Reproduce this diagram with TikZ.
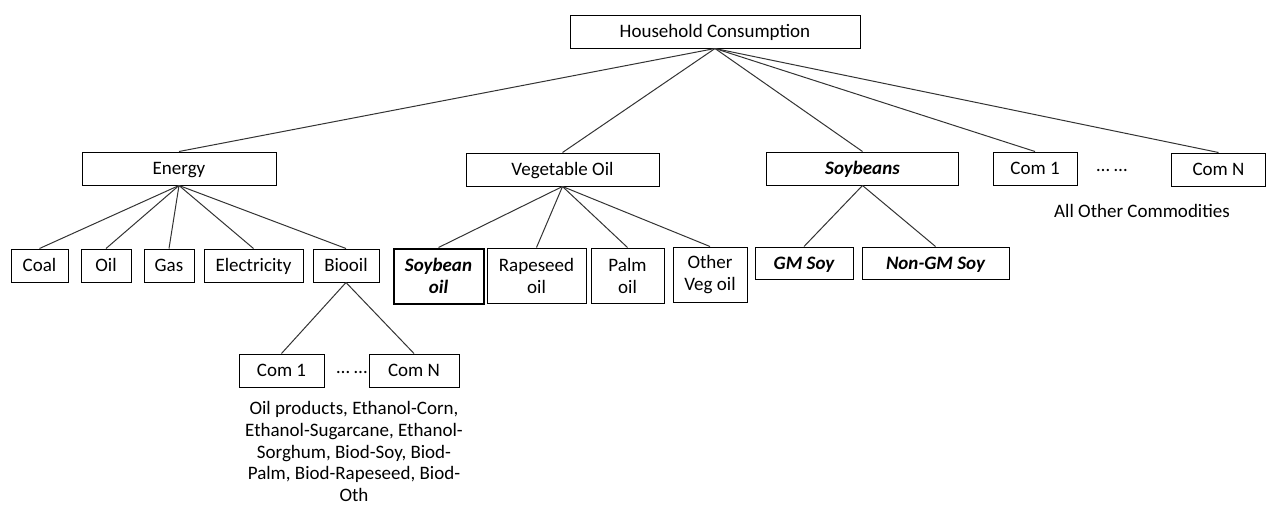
\documentclass[tikz,border=0pt]{standalone}
\usepackage{fontspec}
\setmainfont{Carlito}
\begin{document}
\begin{tikzpicture}[x=1pt,y=-1pt,
  box/.style={draw=black,line width=1pt,inner sep=0pt,align=center,font=\fontsize{19}{22}\selectfont},
  sl/.style={box,text height=12.5pt,text depth=0pt},
  thickbox/.style={box,line width=2pt},
  link/.style={draw=black!80,line width=1pt},
  lbl/.style={inner sep=0pt,align=center,font=\fontsize{19}{21.8}\selectfont}]
\useasboundingbox (0,0) rectangle (1266,504);
% top
\node[sl,minimum width=290,minimum height=33] (hc) at (715,31.5) {Household Consumption};
% level 1
\node[sl,minimum width=194,minimum height=33] (en) at (179,168.5) {Energy};
\node[sl,minimum width=193,minimum height=33] (vo) at (562.5,169.5) {Vegetable Oil};
\node[sl,minimum width=192,minimum height=33] (sb) at (862.5,168.5) {\bfseries\itshape Soybeans};
\node[sl,minimum width=84,minimum height=33] (c1) at (1035,168.5) {Com 1};
\node[lbl,anchor=base] (dots1) at (1112,171) {… …};
\node[sl,minimum width=94,minimum height=33] (cn) at (1218.5,169.5) {Com N};
\node[lbl,anchor=base] (aoc) at (1142,217) {All Other Commodities};
% energy children
\node[sl,minimum width=57,minimum height=33] (coal) at (39.5,265.5) {Coal};
\node[sl,minimum width=50,minimum height=33] (oil) at (106,265.5) {Oil};
\node[sl,minimum width=50,minimum height=33] (gas) at (169,265.5) {Gas};
\node[sl,minimum width=99,minimum height=33] (elec) at (253.5,265.5) {Electricity};
\node[sl,minimum width=66,minimum height=33] (bio) at (346,265.5) {Biooil};
% veg oil children
\node[thickbox,minimum width=90,minimum height=55] (sbo) at (438.5,276) {\bfseries\itshape Soybean\\\bfseries\itshape oil};
\node[box,minimum width=99,minimum height=55] (rap) at (536.5,275.5) {Rapeseed\\oil};
\node[box,minimum width=73,minimum height=55] (palm) at (627.5,275.5) {Palm\\oil};
\node[box,minimum width=74,minimum height=55] (ovo) at (710,274.5) {Other\\Veg oil};
% soybean children
\node[sl,minimum width=98,minimum height=32] (gm) at (804,263) {\bfseries\itshape GM Soy};
\node[sl,minimum width=147,minimum height=32] (ngm) at (935.5,263) {\bfseries\itshape Non-GM Soy};
% biooil children
\node[sl,minimum width=85,minimum height=33] (bc1) at (281.5,370.5) {Com 1};
\node[lbl,anchor=base] (dots2) at (352,373) {… …};
\node[sl,minimum width=90,minimum height=33] (bcn) at (414,370.5) {Com N};
\node[lbl,anchor=north] (biotxt) at (354,401) {Oil products, Ethanol-Corn,\\Ethanol-Sugarcane, Ethanol-\\Sorghum, Biod-Soy, Biod-\\Palm, Biod-Rapeseed, Biod-\\Oth};
% connectors
\foreach \t in {en,vo,sb,c1,cn} \draw[link] (hc.south) -- (\t.north);
\foreach \t in {coal,oil,gas,elec,bio} \draw[link] (en.south) -- (\t.north);
\foreach \t in {sbo,rap,palm,ovo} \draw[link] (vo.south) -- (\t.north);
\foreach \t in {gm,ngm} \draw[link] (sb.south) -- (\t.north);
\foreach \t in {bc1,bcn} \draw[link] (bio.south) -- (\t.north);
\end{tikzpicture}
\end{document}
